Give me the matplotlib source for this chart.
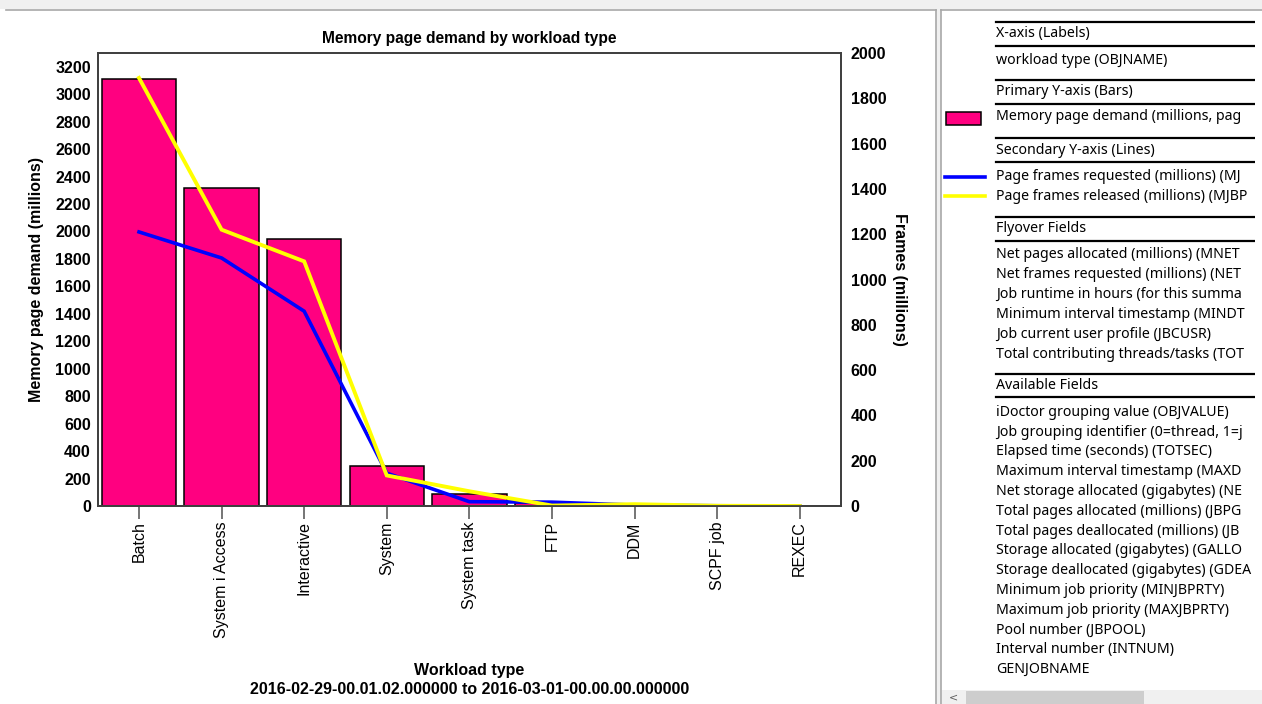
import matplotlib
matplotlib.use("Agg")
import matplotlib.pyplot as plt
from matplotlib.patches import Rectangle
from matplotlib.lines import Line2D

# ---- data -------------------------------------------------------------
workloads = ["Batch", "System i Access", "Interactive", "System", "System task",
             "FTP", "DDM", "SCPF job", "REXEC"]
page_demand = [3110, 2320, 1945, 290, 85, 25, 5, 2, 1]          # millions (bars)
frames_requested = [1210, 1095, 860, 145, 19, 17, 4, 1, 0]       # millions (blue)
frames_released = [1890, 1220, 1080, 135, 65, 2, 8, 1, 0]        # millions (yellow)

left_ticks = list(range(0, 3201, 200))
right_ticks = list(range(0, 2001, 200))

title = "Memory page demand by workload type"
x_title = "Workload type"
period = "2016-02-29-00.01.02.000000 to 2016-03-01-00.00.00.000000"
y_title = "Memory page demand (millions)"
y2_title = "Frames (millions)"

# side panel content (the panel is narrower than its longest entries)
panel_rows = [
    ("head", "X-axis (Labels)"),
    ("item", "workload type (OBJNAME)"),
    ("head", "Primary Y-axis (Bars)"),
    ("bar", "Memory page demand (millions, pag"),
    ("head", "Secondary Y-axis (Lines)"),
    ("blue", "Page frames requested (millions) (MJ"),
    ("yellow", "Page frames released (millions) (MJBP"),
    ("head", "Flyover Fields"),
]
flyover_fields = [
    "Net pages allocated (millions) (MNET",
    "Net frames requested (millions) (NET",
    "Job runtime in hours (for this summa",
    "Minimum interval timestamp (MINDT",
    "Job current user profile (JBCUSR)",
    "Total contributing threads/tasks (TOT",
]
available_fields = [
    "iDoctor grouping value (OBJVALUE)",
    "Job grouping identifier (0=thread, 1=j",
    "Elapsed time (seconds) (TOTSEC)",
    "Maximum interval timestamp (MAXD",
    "Net storage allocated (gigabytes) (NE",
    "Total pages allocated (millions) (JBPG",
    "Total pages deallocated (millions) (JB",
    "Storage allocated (gigabytes) (GALLO",
    "Storage deallocated (gigabytes) (GDEA",
    "Minimum job priority (MINJBPRTY)",
    "Maximum job priority (MAXJBPRTY)",
    "Pool number (JBPOOL)",
    "Interval number (INTNUM)",
    "GENJOBNAME",
]

PINK = "#FF0080"
BLUE = "#0000FF"
YELLOW = "#FFFF00"

W, H = 1262, 704
fig = plt.figure(figsize=(W / 100, H / 100), dpi=100)
fig.patch.set_facecolor("white")


def frac(x0, y0, x1, y1):
    """Pixel box (top-left origin) -> figure fraction rect."""
    return [x0 / W, 1 - y1 / H, (x1 - x0) / W, (y1 - y0) / H]


# ---- window chrome ----------------------------------------------------
bg = fig.add_axes([0, 0, 1, 1], zorder=0)
bg.set_xlim(0, W)
bg.set_ylim(H, 0)
bg.axis("off")
bg.add_patch(Rectangle((0, 0), W, 9, color="#f0f0f0", lw=0))
bg.add_patch(Rectangle((936, 0), 5, H, color="#f0f0f0", lw=0))
bg.add_line(Line2D([6, 936], [9.5, 9.5], color="#a8a8a8", lw=1.2))
bg.add_line(Line2D([941, W], [9.5, 9.5], color="#a8a8a8", lw=1.2))
bg.add_line(Line2D([935.5, 935.5], [9.5, H], color="#a8a8a8", lw=1.2))
bg.add_line(Line2D([941, 941], [9.5, H], color="#a8a8a8", lw=1.2))
# horizontal scroll bar of the side panel
bg.add_patch(Rectangle((942, 690), W - 942, 14, color="#f0f0f0", lw=0))
bg.add_patch(Rectangle((966, 691), 178, 13, color="#cdcdcd", lw=0))
bg.text(953, 697, "<", ha="center", va="center", fontsize=8,
        color="#606060", family="DejaVu Sans")

# ---- chart ------------------------------------------------------------
CH = "Liberation Sans"
ax = fig.add_axes(frac(97.7, 53, 841, 506), zorder=2)
ax.set_facecolor("white")
x = list(range(len(workloads)))
ax.bar(x, page_demand, width=0.9, color=PINK, edgecolor="black", linewidth=1.1)
ax.set_xlim(-0.5, len(workloads) - 0.5)
ax.set_ylim(0, 3300)
ax.set_yticks(left_ticks)
ax.set_yticklabels([str(v) for v in left_ticks], family=CH, weight="bold",
                   fontsize=11.5)
ax.tick_params(axis="y", length=0, pad=5)
ax.set_xticks(x)
ax.set_xticklabels(workloads, rotation=90, family=CH, fontsize=11.5)
ax.tick_params(axis="x", length=9, width=1.1, color="#505050", pad=2)
for s in ax.spines.values():
    s.set_color("#404040")
    s.set_linewidth(1.3)

ax2 = ax.twinx()
ax2.plot(x, frames_requested, color=BLUE, lw=2.6, solid_joinstyle="miter")
ax2.plot(x, frames_released, color=YELLOW, lw=2.8, solid_joinstyle="miter")
ax2.set_ylim(0, 2000)
ax2.set_yticks(right_ticks)
ax2.set_yticklabels([str(v) for v in right_ticks], family=CH, weight="bold",
                    fontsize=11.5)
ax2.tick_params(axis="y", length=0, pad=7)
for s in ax2.spines.values():
    s.set_color("#404040")
    s.set_linewidth(1.3)

cx = (97.7 + 841) / 2
cy = (53 + 506) / 2
fig.text(cx / W, 1 - 39 / H, title, ha="center", va="center", family=CH,
         weight="bold", fontsize=11.2)
fig.text(cx / W, 1 - 670 / H, x_title, ha="center", va="center", family=CH,
         weight="bold", fontsize=11.5)
fig.text(cx / W, 1 - 690 / H, period, ha="center", va="center", family=CH,
         weight="bold", fontsize=11.5)
fig.text(36.5 / W, 1 - cy / H, y_title, ha="center", va="center", family=CH,
         weight="bold", fontsize=11.5, rotation=90)
fig.text(899 / W, 1 - cy / H, y2_title, ha="center", va="center", family=CH,
         weight="bold", fontsize=11.5, rotation=-90)

# ---- side panel -------------------------------------------------------
PF = "Noto Sans"
pfs = 10.2
pan = fig.add_axes(frac(942, 10, 1255, 689), zorder=3)
pan.set_xlim(942, 1255)
pan.set_ylim(689, 10)
pan.axis("off")
TX = 996


def rule(y):
    pan.add_line(Line2D([TX, 1255], [y, y], color="black", lw=1.6))


def label(y, s):
    pan.text(TX, y, s, ha="left", va="center", family=PF, fontsize=pfs,
             color="black", clip_on=True)


rows_y = [(22, 33.5), (46, 60), (80, 91.5), (104, 117),
          (138, 150), (162, 177), (None, 196), (217, 229)]
for (kind, text), (ry, ty) in zip(panel_rows, rows_y):
    if ry is not None:
        rule(ry)
    label(ty, text)
    if kind == "bar":
        pan.add_patch(Rectangle((946, 111.5), 35, 13.5, facecolor=PINK,
                                edgecolor="black", lw=1.1))
    elif kind == "blue":
        pan.add_line(Line2D([945, 985], [ty, ty], color=BLUE, lw=2.6))
    elif kind == "yellow":
        pan.add_line(Line2D([945, 985], [ty, ty], color=YELLOW, lw=2.6))

rule(241)
for i, s in enumerate(flyover_fields):
    label(255 + i * 19.9, s)
rule(373.5)
label(385.5, "Available Fields")
rule(397)
for i, s in enumerate(available_fields):
    label(412.3 + i * 19.8, s)

fig.savefig("out.png", dpi=100, facecolor="white")
